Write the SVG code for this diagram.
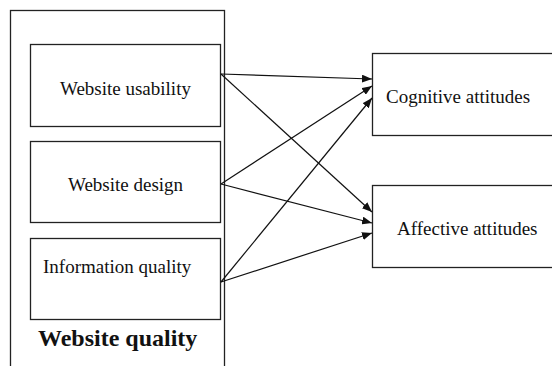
<svg xmlns="http://www.w3.org/2000/svg" width="552" height="366" viewBox="0 0 552 366">
<style>
.box{fill:#fff;stroke:#222;stroke-width:1.3}
.t{font-family:"Liberation Serif","Times New Roman",serif;font-size:19px;fill:#111}
.b{font-family:"Liberation Serif","Times New Roman",serif;font-size:24px;font-weight:bold;fill:#111}
.c{stroke:#111;stroke-width:1.2;fill:none;marker-end:url(#ah)}
</style>
<defs>
<marker id="ah" viewBox="0 0 10 8" refX="10" refY="4" markerWidth="10" markerHeight="8" markerUnits="userSpaceOnUse" orient="auto">
<path d="M0,0 L10,4 L0,8 Z" fill="#111"/>
</marker>
</defs>
<g id="website-quality">
<rect class="box" x="10.5" y="10.5" width="214" height="370"/>
<text class="b" x="38" y="346">Website quality</text>
</g>
<g id="usability">
<rect class="box" x="30.5" y="44.5" width="190" height="82"/>
<text class="t" x="60" y="95">Website usability</text>
</g>
<g id="design">
<rect class="box" x="30.5" y="141.5" width="190" height="81"/>
<text class="t" x="68" y="191">Website design</text>
</g>
<g id="information">
<rect class="box" x="30.5" y="238.5" width="190" height="81"/>
<text class="t" x="43" y="273">Information quality</text>
</g>
<g id="cognitive">
<rect class="box" x="372.5" y="53.5" width="190" height="82"/>
<text class="t" x="386" y="103">Cognitive attitudes</text>
</g>
<g id="affective">
<rect class="box" x="372.5" y="185.5" width="190" height="82"/>
<text class="t" x="397" y="235">Affective attitudes</text>
</g>
<g id="connectors">
<line class="c" x1="221" y1="74" x2="372" y2="79"/>
<line class="c" x1="221" y1="74" x2="372" y2="212"/>
<line class="c" x1="221" y1="184" x2="372" y2="86"/>
<line class="c" x1="221" y1="184" x2="372" y2="223"/>
<line class="c" x1="221" y1="282" x2="372" y2="98"/>
<line class="c" x1="221" y1="282" x2="372" y2="233"/>
</g>
</svg>
